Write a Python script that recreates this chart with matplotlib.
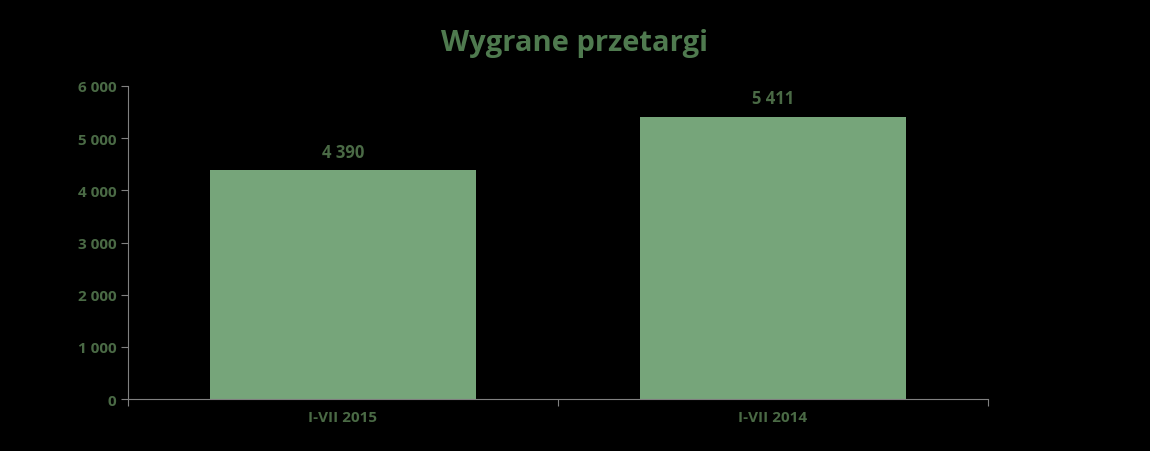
import matplotlib
matplotlib.use("Agg")
import matplotlib.pyplot as plt

categories = ["I-VII 2015", "I-VII 2014"]
values = [4390, 5411]
yticks = [0, 1000, 2000, 3000, 4000, 5000, 6000]

def fmt(v):
    return f"{v:,}".replace(",", " ")

txt = "#4A6A45"
fig = plt.figure(figsize=(11.5, 4.52), dpi=100, facecolor="black")
ax = fig.add_axes([128/1150, 1-400/452, 860/1150, 313/452], facecolor="black")
x = list(range(len(categories)))
ax.bar(x, values, width=0.62, color="#76A57A")
for xi, v in zip(x, values):
    ax.text(xi, v + 180, fmt(v), ha="center", va="bottom", color=txt,
            fontsize=12, fontweight="bold", family="Open Sans")
ax.set_xlim(-0.5, 1.5)
ax.set_ylim(0, 6000)
ax.set_yticks(yticks)
ax.set_yticklabels([fmt(t) for t in yticks], color=txt, fontsize=11,
                   fontweight="bold", family="Open Sans")
ax.set_xticks([-0.5, 0.5, 1.5])
ax.set_xticklabels([])
ax.set_xticks(x, minor=True)
ax.set_xticklabels(categories, minor=True, color=txt, fontsize=11,
                   fontweight="bold", family="Open Sans")
ax.tick_params(axis="x", which="minor", length=0, pad=8)
ax.tick_params(axis="x", which="major", length=5, color="#808080")
ax.tick_params(axis="y", length=5, color="#808080")
for s in ["top", "right"]:
    ax.spines[s].set_visible(False)
for s in ["left", "bottom"]:
    ax.spines[s].set_color("#808080")
fig.text(575/1150, 1-43/452, "Wygrane przetargi", ha="center", va="center",
         color="#4F7A4F", fontsize=21, fontweight="bold", family="Open Sans")
fig.savefig("out.png", facecolor="black")
